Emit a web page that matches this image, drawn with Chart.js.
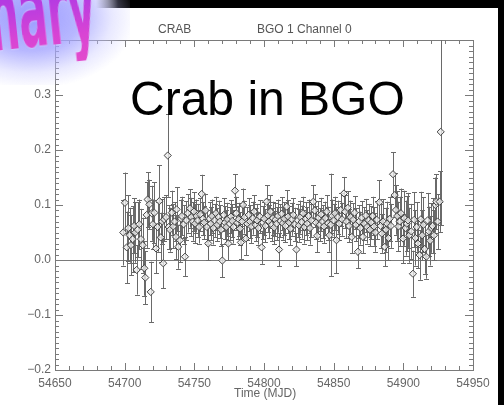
<!DOCTYPE html>
<html>
<head>
<meta charset="utf-8">
<script src="https://cdn.jsdelivr.net/npm/chart.js@4.4.1/dist/chart.umd.min.js"></script>
<style>
  html,body{margin:0;padding:0;background:#fff;overflow:hidden;width:504px;height:405px;}
  #wrap{position:relative;width:504px;height:405px;overflow:hidden;}
  canvas{position:absolute;left:0;top:0;}
  .t{position:absolute;font-family:"Liberation Sans",Arial,sans-serif;color:#555;font-size:12px;line-height:14px;white-space:nowrap;}
  #big{position:absolute;left:130px;top:75px;font-family:"Liberation Sans",Arial,sans-serif;font-size:48px;line-height:48px;color:#000;white-space:nowrap;}
  #glow{position:absolute;left:-50px;top:-50px;width:180px;height:135px;
        background:radial-gradient(ellipse at 45% 50%, rgba(150,150,255,0.95) 0%, rgba(165,165,255,0.8) 35%, rgba(200,200,255,0.4) 58%, rgba(255,255,255,0) 75%);}
  #prelim{position:absolute;right:407px;top:-51px;font-family:"DejaVu Sans Condensed","DejaVu Sans",sans-serif;font-weight:bold;
        font-size:104px;line-height:110px;white-space:nowrap;text-align:right;letter-spacing:-1px;
        transform-origin:100% 70%;transform:rotate(-6deg) scaleX(0.46);
        background:linear-gradient(180deg,#9a34e6 0%,#b83ce0 45%,#d844d4 75%,#e24ccc 100%);-webkit-background-clip:text;background-clip:text;color:transparent;
        filter:drop-shadow(0 0 1px #f4d8ff);}
</style>
</head>
<body>
<div id="wrap">
  <canvas id="c" width="504" height="405"></canvas>
  <div id="glow"></div>
  <div id="prelim">Preliminary</div>
  <div class="t" style="left:158px;top:22px;">CRAB</div>
  <div class="t" style="left:257px;top:22px;">BGO 1 Channel 0</div>
  <div class="t" style="left:234px;top:386px;color:#666;">Time (MJD)</div>
  <div id="big">Crab in BGO</div>
</div>
<script>
// ---- data ----
const mjd = [
54699.0,54700.2,54701.5,54702.6,54703.5,54704.5,54705.8,54706.8,54707.6,54708.6,
54709.4,54710.5,54711.7,54713.0,54714.1,54714.8,54715.8,54716.5,54717.7,54718.7,
54719.4,54720.3,54721.3,54722.5,54723.6,54724.9,54725.9,54727.0,54727.7,54728.4,
54729.7,54730.9,54731.6,54732.5,54733.8,54734.9,54735.8,54736.8,54737.3,54738.5,
54739.7,54740.5,54741.1,54742.3,54743.3,54744.3,54745.3,54746.9,54747.8,54748.8,
54749.7,54750.6,54751.5,54752.4,54753.4,54754.3,54755.3,54756.2,54757.1,54758.0,
54759.0,54760.0,54760.9,54761.8,54762.7,54763.7,54764.6,54765.5,54766.4,54767.4,
54768.3,54769.2,54770.1,54771.1,54772.0,54772.9,54773.8,54774.4,54775.4,54776.3,
54777.2,54778.1,54779.2,54780.1,54781.0,54781.9,54782.8,54783.4,54784.3,54785.0,
54786.0,54787.0,54788.0,54789.0,54790.0,54791.0,54792.0,54793.0,54794.0,54795.0,
54796.0,54797.0,54798.3,54799.2,54800.1,54801.0,54801.9,54802.8,54803.7,54804.6,
54805.5,54806.4,54807.3,54808.2,54809.1,54810.0,54810.8,54811.8,54812.7,54813.6,
54814.5,54815.4,54816.3,54817.2,54818.1,54819.0,54820.0,54821.0,54822.0,54823.3,
54824.2,54825.1,54826.0,54827.0,54828.0,54829.0,54830.0,54831.0,54832.0,54833.0,
54834.0,54835.4,54836.4,54837.3,54838.2,54839.1,54840.0,54841.0,54842.0,54843.0,
54844.0,54845.0,54846.0,54847.0,54848.0,54849.0,54850.0,54851.0,54852.0,54853.0,
54854.0,54855.0,54856.0,54857.4,54858.3,54859.2,54860.1,54861.0,54862.0,54863.0,
54864.0,54865.0,54866.0,54867.4,54868.3,54869.2,54870.1,54871.0,54872.0,54873.0,
54874.0,54875.0,54876.0,54877.0,54878.0,54879.0,54880.0,54881.0,54882.8,54883.7,
54884.6,54885.5,54886.6,54887.5,54888.4,54889.3,54890.2,54891.1,54892.6,54893.8,
54894.7,54895.6,54896.5,54897.4,54898.3,54899.8,54900.7,54901.6,54902.5,54903.4,
54904.3,54905.7,54906.9,54907.8,54908.7,54909.6,54910.5,54911.7,54912.6,54913.5,
54914.4,54915.3,54916.5,54917.4,54918.3,54919.2,54920.1,54921.0,54922.0,54923.0,
54923.7,54924.6,54926.1,54926.8
];
const flux = [
0.050,0.104,0.023,0.058,0.045,0.027,0.038,0.062,0.050,-0.018,
0.055,0.065,0.038,0.027,-0.015,-0.032,0.082,0.110,0.101,-0.058,
0.085,0.065,0.086,0.021,0.060,0.107,0.041,0.070,-0.006,0.074,
0.078,0.190,0.060,0.055,0.086,0.061,0.070,0.042,0.092,0.024,
0.036,0.075,0.080,0.065,0.006,0.072,0.085,0.094,0.078,0.070,
0.088,0.066,0.080,0.072,0.060,0.083,0.120,0.075,0.068,0.090,
0.060,0.030,0.075,0.066,0.080,0.058,0.072,0.085,0.064,0.078,
0.070,0.055,-0.001,0.082,0.068,0.060,0.074,0.030,0.066,0.079,
0.071,0.060,0.126,0.085,0.068,0.074,0.057,0.032,0.070,0.100,
0.078,0.039,0.066,0.082,0.070,0.061,0.076,0.088,0.064,0.072,
0.058,0.079,0.023,0.068,0.075,0.062,0.106,0.081,0.070,0.088,
0.064,0.076,0.059,0.073,0.066,0.080,0.019,0.071,0.084,0.067,
0.075,0.062,0.097,0.079,0.068,0.057,0.074,0.082,0.065,0.019,
0.072,0.063,0.078,0.069,0.085,0.060,0.075,0.066,0.080,0.058,
0.072,0.106,0.090,0.068,0.044,0.077,0.064,0.083,0.070,0.061,
0.076,0.088,0.067,0.045,0.064,0.080,0.072,0.085,0.036,0.078,
0.066,0.091,0.074,0.121,0.088,0.070,0.095,0.062,0.078,0.042,
0.073,0.086,0.064,0.015,0.070,0.058,0.077,0.042,0.066,0.081,
0.060,0.072,0.055,0.068,0.080,0.061,0.050,0.073,0.105,0.062,
0.048,0.070,0.024,0.055,0.066,0.040,0.075,0.062,0.156,0.118,
0.091,0.080,0.061,0.070,0.085,0.039,0.076,0.058,0.066,0.072,
0.045,0.052,-0.025,0.073,0.040,0.060,0.030,0.009,0.074,0.045,
0.064,0.020,0.006,0.072,0.052,0.035,0.058,0.062,0.045,0.100,
0.106,0.070,0.106,0.233
];
const fluxErr = [
0.060,0.055,0.065,0.060,0.050,0.055,0.060,0.050,0.055,0.045,
0.050,0.045,0.055,0.050,0.050,0.048,0.060,0.050,0.045,0.055,
0.050,0.045,0.055,0.045,0.045,0.065,0.045,0.040,0.045,0.040,
0.040,0.075,0.040,0.040,0.040,0.040,0.035,0.040,0.040,0.040,
0.040,0.035,0.035,0.035,0.035,0.035,0.035,0.035,0.035,0.035,
0.035,0.035,0.030,0.030,0.030,0.030,0.035,0.030,0.030,0.030,
0.030,0.030,0.030,0.030,0.030,0.030,0.030,0.030,0.030,0.030,
0.030,0.030,0.030,0.030,0.030,0.030,0.030,0.030,0.030,0.030,
0.030,0.030,0.030,0.030,0.030,0.030,0.030,0.030,0.030,0.030,
0.030,0.030,0.030,0.030,0.030,0.030,0.030,0.030,0.030,0.030,
0.030,0.030,0.030,0.030,0.030,0.030,0.030,0.030,0.030,0.030,
0.030,0.030,0.030,0.030,0.030,0.030,0.030,0.030,0.030,0.030,
0.030,0.030,0.030,0.030,0.030,0.030,0.030,0.030,0.030,0.030,
0.030,0.030,0.030,0.030,0.030,0.030,0.030,0.030,0.030,0.030,
0.030,0.030,0.030,0.030,0.030,0.030,0.030,0.030,0.030,0.030,
0.030,0.030,0.030,0.030,0.093,0.030,0.030,0.030,0.060,0.030,
0.030,0.030,0.030,0.030,0.030,0.030,0.030,0.030,0.030,0.030,
0.030,0.030,0.030,0.030,0.030,0.030,0.030,0.030,0.030,0.030,
0.030,0.030,0.030,0.030,0.035,0.035,0.035,0.035,0.040,0.040,
0.035,0.040,0.035,0.040,0.040,0.040,0.040,0.040,0.040,0.040,
0.045,0.045,0.045,0.045,0.045,0.045,0.050,0.050,0.050,0.050,
0.050,0.050,0.042,0.050,0.050,0.045,0.045,0.045,0.050,0.045,
0.050,0.045,0.040,0.050,0.045,0.045,0.045,0.050,0.045,0.050,
0.050,0.050,0.055,0.170
];
const xRange = [54650, 54950];
const yRange = [-0.2, 0.4];
const yTickLabels = [-0.2, -0.1, 0.0, 0.1, 0.2, 0.3];

// ---- plugins ----
const bgPlugin = {
  id: 'bg',
  beforeDraw(chart) {
    const ctx = chart.ctx;
    ctx.save();
    ctx.fillStyle = '#ffffff';
    ctx.fillRect(0, 0, 504, 405);
    const g = ctx.createLinearGradient(96, 0, 118, 0);
    g.addColorStop(0, 'rgba(0,0,0,0)');
    g.addColorStop(1, 'rgba(0,0,0,1)');
    ctx.fillStyle = g;
    ctx.fillRect(96, 0, 408, 8);
    ctx.fillStyle = '#000';
    ctx.fillRect(498, 0, 6, 405);
    ctx.restore();
  }
};

const framePlugin = {
  id: 'frame',
  beforeDatasetsDraw(chart) {
    const {ctx, chartArea: a, scales: {x, y}} = chart;
    ctx.save();
    ctx.strokeStyle = '#7a7a7a';
    ctx.lineWidth = 1;
    const y0 = Math.round(y.getPixelForValue(0)) + 0.5;
    ctx.beginPath(); ctx.moveTo(a.left, y0); ctx.lineTo(a.right, y0); ctx.stroke();
    ctx.strokeRect(Math.round(a.left) + 0.5, Math.round(a.top) + 0.5, Math.round(a.right - a.left), Math.round(a.bottom - a.top));
    ctx.beginPath();
    for (let v = xRange[0]; v <= xRange[1] + 1e-6; v += 10) {
      const px = Math.round(x.getPixelForValue(v)) + 0.5;
      const len = (Math.round(v) % 50 === 0) ? 7 : 4;
      ctx.moveTo(px, a.bottom); ctx.lineTo(px, a.bottom - len);
      ctx.moveTo(px, a.top); ctx.lineTo(px, a.top + len);
    }
    for (let k = -20; k <= 40; k++) {
      const v = k / 100;
      const py = Math.round(y.getPixelForValue(v)) + 0.5;
      const len = (k % 10 === 0) ? 8 : 4;
      ctx.moveTo(a.left, py); ctx.lineTo(a.left + len, py);
      ctx.moveTo(a.right, py); ctx.lineTo(a.right - len, py);
    }
    ctx.stroke();
    ctx.strokeStyle = '#6a6a6a';
    ctx.beginPath();
    const meta = chart.getDatasetMeta(0);
    meta.data.forEach((pt, i) => {
      const px = Math.round(pt.x) + 0.5;
      let t = y.getPixelForValue(flux[i] + fluxErr[i]);
      let b = y.getPixelForValue(flux[i] - fluxErr[i]);
      const tc = Math.max(t, a.top), bc = Math.min(b, a.bottom);
      ctx.moveTo(px, tc); ctx.lineTo(px, bc);
      if (t >= a.top) { const ty = Math.round(t) + 0.5; ctx.moveTo(px - 2.5, ty); ctx.lineTo(px + 2.5, ty); }
      if (b <= a.bottom) { const by = Math.round(b) + 0.5; ctx.moveTo(px - 2.5, by); ctx.lineTo(px + 2.5, by); }
    });
    ctx.stroke();
    ctx.restore();
  }
};

new Chart(document.getElementById('c'), {
  type: 'scatter',
  data: {
    datasets: [{
      data: mjd.map((d, i) => ({x: d, y: flux[i]})),
      pointStyle: 'rectRot',
      pointRadius: 3.6,
      pointBackgroundColor: 'rgba(235,235,235,0.8)',
      pointBorderColor: '#444',
      pointBorderWidth: 1
    }]
  },
  options: {
    responsive: false,
    animation: false,
    layout: {padding: {top: 40, right: 31, left: 0, bottom: 0}},
    plugins: {legend: {display: false}, tooltip: {enabled: false}, title: {display: false}},
    scales: {
      x: {
        type: 'linear', min: xRange[0], max: xRange[1],
        grid: {display: false, drawTicks: false}, border: {display: false},
        ticks: {stepSize: 50, padding: 6, color: '#666', maxRotation: 0,
                font: {family: 'Liberation Sans', size: 12},
                callback: v => String(v)},
        title: {display: false},
        afterFit: s => { s.height = 35; }
      },
      y: {
        type: 'linear', min: yRange[0], max: yRange[1],
        grid: {display: false, drawTicks: false}, border: {display: false},
        ticks: {stepSize: 0.1, padding: 4, color: '#666',
                font: {family: 'Liberation Sans', size: 12},
                callback: v => {
                  const r = Math.round(v * 10) / 10;
                  if (!yTickLabels.some(t => Math.abs(t - r) < 1e-6)) return null;
                  const s = Math.abs(r).toFixed(1);
                  return r < 0 ? '\u2212' + s : s;
                }},
        afterFit: s => { s.width = 55; }
      }
    }
  },
  plugins: [bgPlugin, framePlugin]
});
</script>
</body>
</html>
